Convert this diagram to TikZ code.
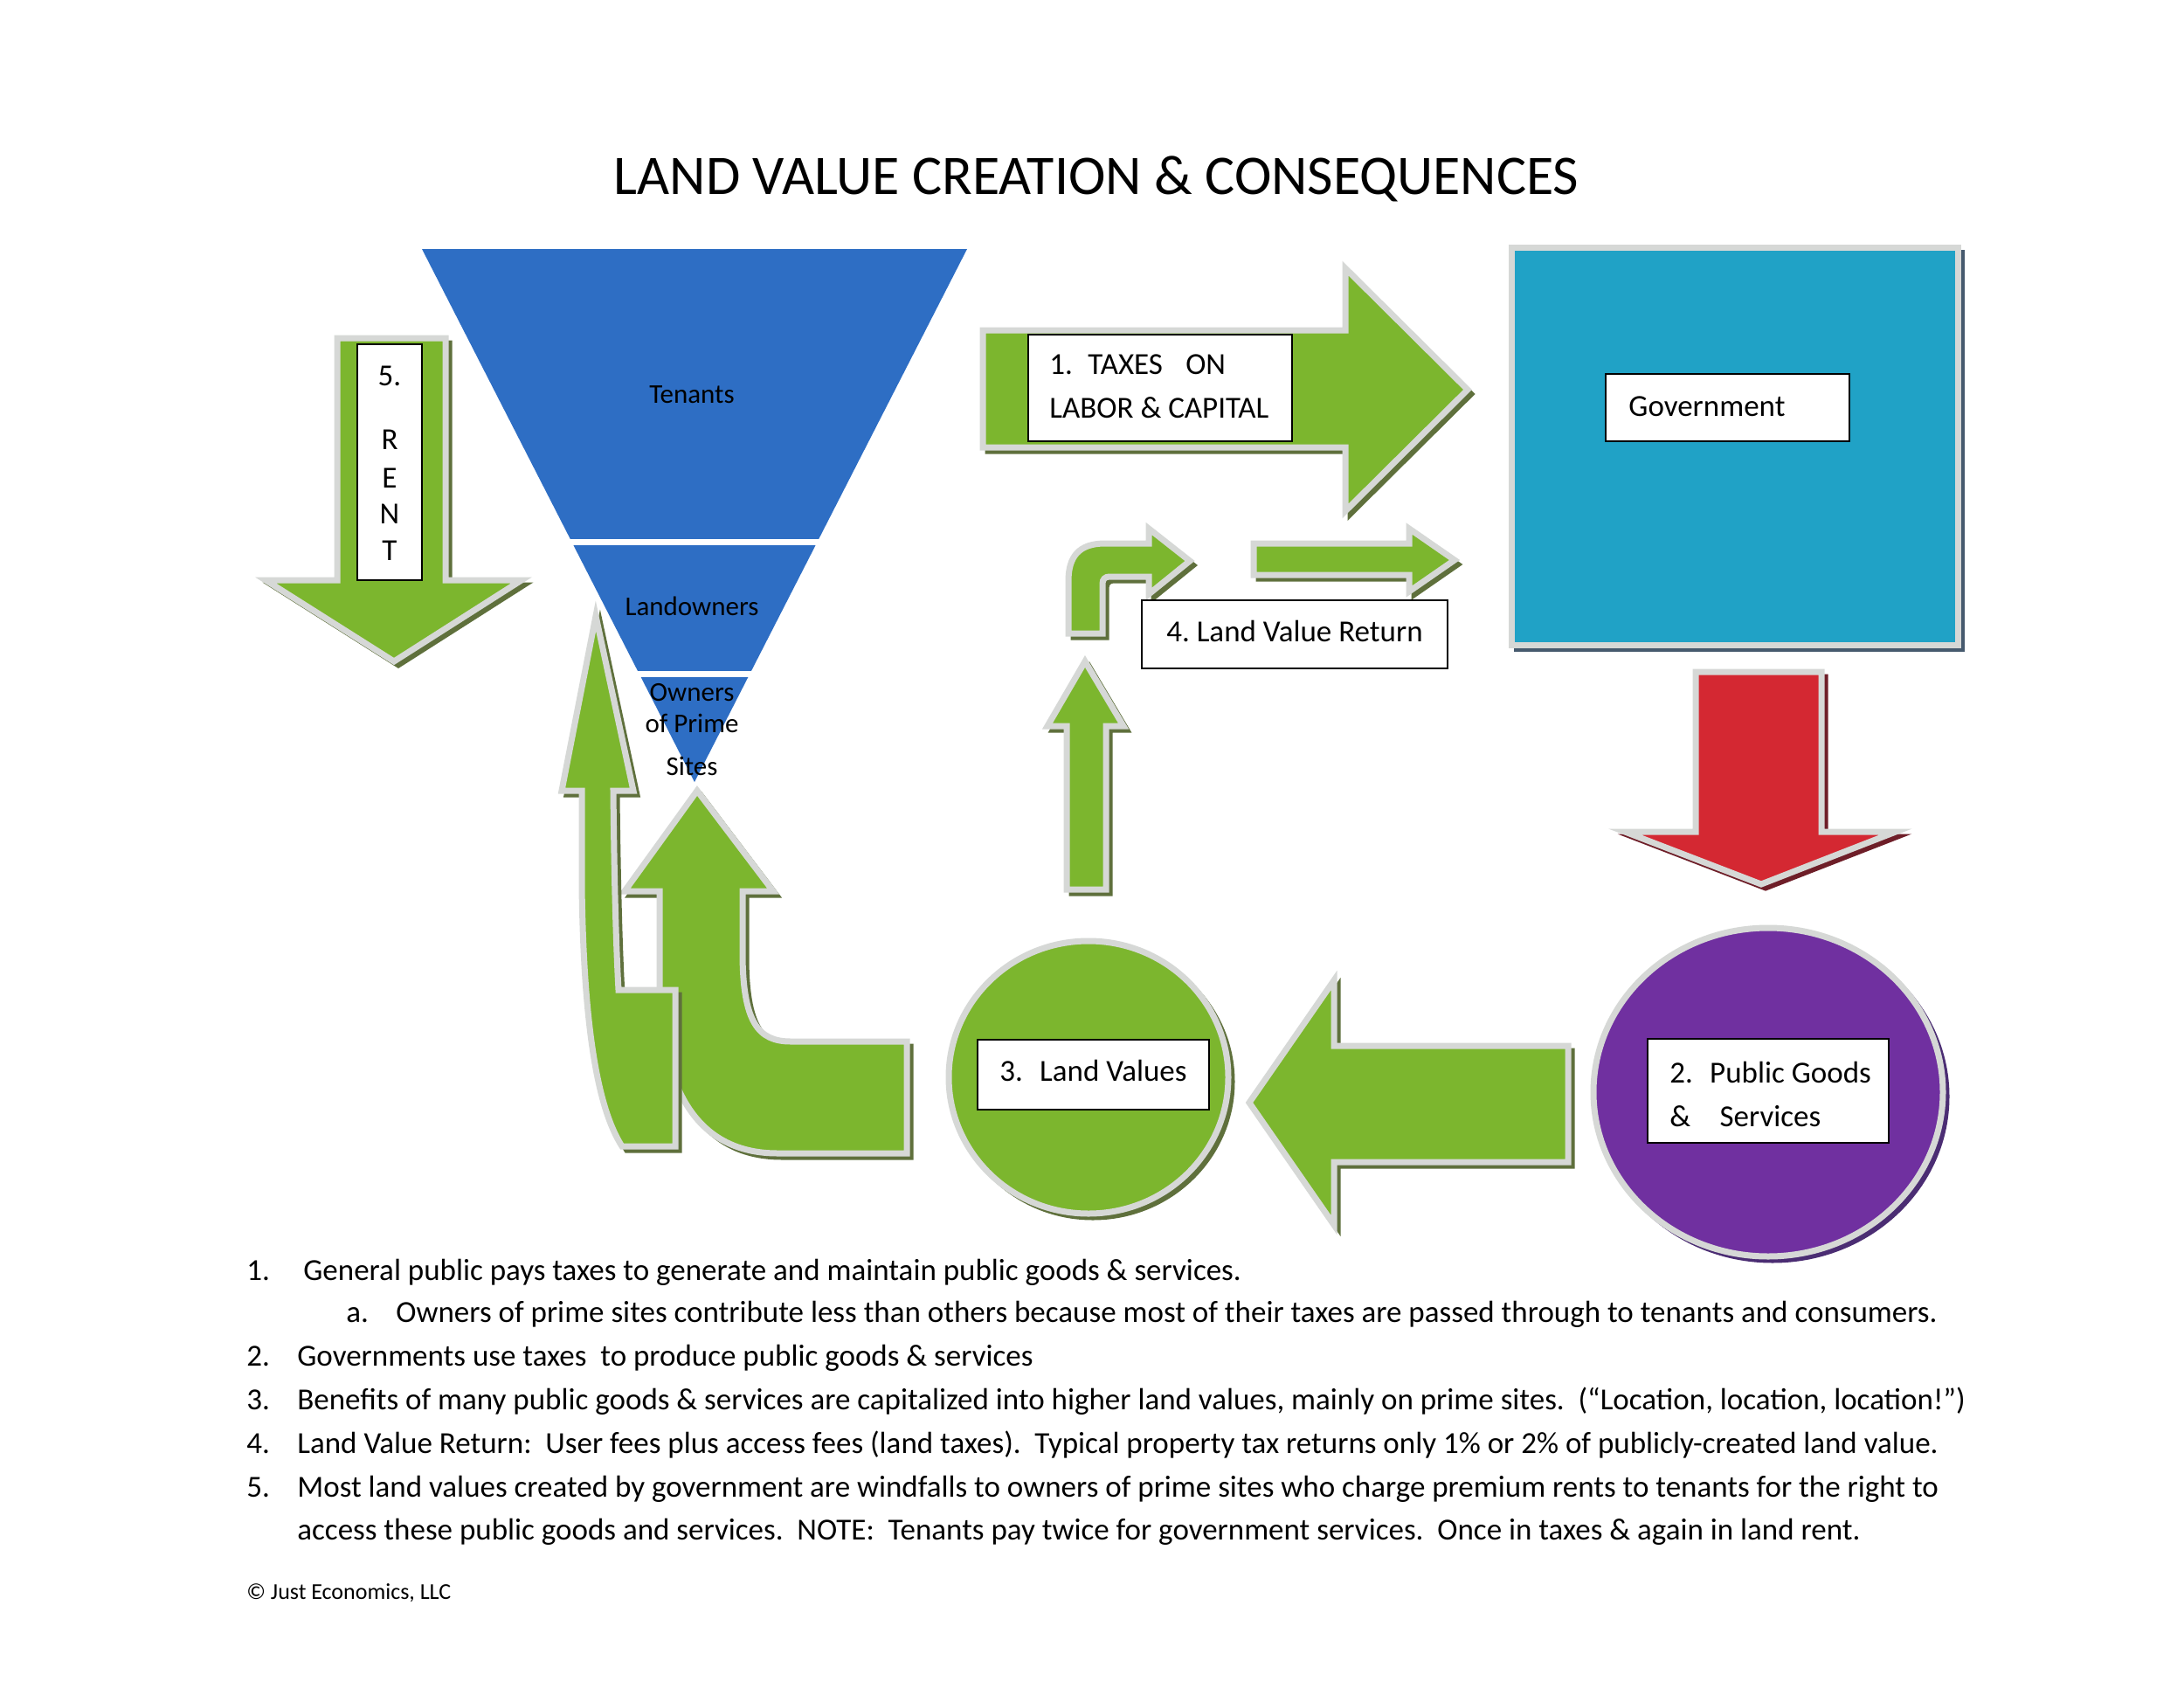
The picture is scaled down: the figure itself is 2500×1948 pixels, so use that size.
\documentclass[tikz,border=0pt]{standalone}
\usepackage{fontspec}
\setmainfont{Carlito}
\definecolor{lvgreen}{RGB}{124,182,46}
\definecolor{gshadow}{RGB}{95,112,60}
\definecolor{gband}{RGB}{214,216,214}
\definecolor{tblue}{RGB}{46,110,196}
\definecolor{govteal}{RGB}{32,162,198}
\definecolor{tealshadow}{RGB}{70,90,110}
\definecolor{rred}{RGB}{212,40,50}
\definecolor{redshadow}{RGB}{110,30,40}
\definecolor{ppurple}{RGB}{112,48,160}
\definecolor{purpshadow}{RGB}{75,45,115}
\newcommand{\fshape}[3]{%
  \filldraw[#2, line width=2.5pt, line join=miter, shift={(5,5)}] #3;
  \filldraw[fill=#1, draw=gband, line width=3.5pt, line join=miter] #3;}
\tikzset{
  lbl/.style={font=\fontsize{17.5}{21}\selectfont, inner sep=0pt, text=black},
  tri/.style={font=\fontsize{15.5}{18}\selectfont, inner sep=0pt, text=black, anchor=base},
  listtxt/.style={font=\fontsize{17.5}{21}\selectfont, inner sep=0pt, anchor=base west},
  boxw/.style={draw=black, line width=1.3pt, fill=white, inner sep=0pt},
}
\begin{document}
\frenchspacing
\begin{tikzpicture}[x=0.5pt, y=-0.5pt]
\useasboundingbox (0,0) rectangle (2500,1948);
\fill[white] (0,0) rectangle (2500,1948);

% title
\node[font=\fontsize{32}{36}\selectfont, inner sep=0pt, anchor=base] (title) at (1255,222) {LAND VALUE CREATION \& CONSEQUENCES};

% RENT arrow
\fshape{lvgreen}{gshadow}{(386,387) -- (510,387) -- (510,664) -- (597,664) -- (451,757) -- (304,664) -- (386,664) -- cycle}
\node[boxw, minimum width=37pt, minimum height=135pt] (rentbox) at (446,529) {};
\node[lbl, anchor=base] (r5) at (446,441) {5.};
\node[lbl, anchor=base] (rR) at (446,514) {R};
\node[lbl, anchor=base] (rE) at (446,558) {E};
\node[lbl, anchor=base] (rN) at (446,599) {N};
\node[lbl, anchor=base] (rT) at (446,641) {T};

% triangle
\fill[tblue] (483,285) -- (1107,285) -- (795,895) -- cycle;
\draw[white, line width=3.5pt] (640,620) -- (950,620);
\draw[white, line width=3.5pt] (722,771) -- (868,771);

% U-turn arrow
\fshape{lvgreen}{gshadow}{(798,905) -- (885,1020) -- (850,1020) -- (850,1090) .. controls (850,1170) and (868,1192) .. (905,1192) -- (1038,1192) -- (1038,1320) -- (890,1320) .. controls (800,1320) and (758,1250) .. (755,1133) -- (755,1020) -- (715,1020) -- cycle}
% tall arrow
\fshape{lvgreen}{gshadow}{(682,705) -- (725,905) -- (702,905) .. controls (703,1000) and (705,1080) .. (708,1133) -- (773,1133) -- (773,1312) -- (712,1312) .. controls (685,1270) and (668,1180) .. (666,1013) -- (666,905) -- (643,905) -- cycle}

% triangle labels
\node[tri] (tenants) at (792,461) {Tenants};
\node[tri] (landowners) at (792,704) {Landowners};
\node[tri] (owners1) at (792,802) {Owners};
\node[tri] (owners2) at (792,838) {of Prime};
\node[tri] (owners3) at (792,887) {Sites};

% arrow 1
\fshape{lvgreen}{gshadow}{(1125,378) -- (1540,378) -- (1540,307) -- (1680,446) -- (1540,585) -- (1540,512) -- (1125,512) -- cycle}
\node[boxw, minimum width=151pt, minimum height=61pt] (box1) at (1328,444) {};
\node[lbl, anchor=base west] (box1a) at (1201,428) {1.\hspace{0.5em}TAXES\hspace{0.75em}ON};
\node[lbl, anchor=base west] (box1b) at (1201,478) {LABOR \& CAPITAL};

% government
\fshape{govteal}{tealshadow}{(1730,283) rectangle (2241,738)}
\node[boxw, minimum width=139.5pt, minimum height=38.5pt] (govbox) at (1977.5,466.5) {};
\node[lbl, anchor=base west] (govtxt) at (1864,476) {Government};

% red arrow
\fshape{rred}{redshadow}{(1941,769) -- (2085,769) -- (2085,952) -- (2170,952) -- (2016,1012) -- (1860,952) -- (1941,952) -- cycle}

% purple circle
\fshape{ppurple}{purpshadow}{(2024,1250) ellipse [x radius=200, y radius=188]}
\node[boxw, minimum width=138pt, minimum height=59.5pt] (box2) at (2024,1248.5) {};
\node[lbl, anchor=base west] (box2a) at (1911,1239) {2.\hspace{0.55em}Public Goods};
\node[lbl, anchor=base west] (box2b) at (1911,1289) {\&\hspace{0.95em}Services};

% left arrow
\fshape{lvgreen}{gshadow}{(1795,1197) -- (1527,1197) -- (1527,1122) -- (1430,1262) -- (1527,1402) -- (1527,1330) -- (1795,1330) -- cycle}

% green circle
\fshape{lvgreen}{gshadow}{(1246,1233) ellipse [x radius=160, y radius=156]}
\node[boxw, minimum width=132.5pt, minimum height=40pt] (box3) at (1251.5,1230) {};
\node[lbl, anchor=base] (box3t) at (1251.5,1237) {3.\hspace{0.55em}Land Values};

% small up arrow
\fshape{lvgreen}{gshadow}{(1221,1018) -- (1221,831) -- (1199,831) -- (1242,757) -- (1286,831) -- (1266,831) -- (1266,1018) -- cycle}

% bent arrow
\fshape{lvgreen}{gshadow}{(1223,725) -- (1223,665) .. controls (1223,637) and (1235,622) .. (1265,622) -- (1315,622) -- (1315,605) -- (1362,642) -- (1315,680) -- (1315,660) -- (1270,660) .. controls (1265,660) and (1262,663) .. (1262,668) -- (1262,725) -- cycle}

% straight arrow
\fshape{lvgreen}{gshadow}{(1435,622) -- (1613,622) -- (1613,605) -- (1665,641) -- (1613,677) -- (1613,658) -- (1435,658) -- cycle}

\node[boxw, minimum width=175pt, minimum height=39pt] (box4) at (1482,726) {};
\node[lbl, anchor=base] (box4t) at (1482,734) {4. Land Value Return};

% notes
\node[listtxt] (n1) at (282,1465) {1.};
\node[listtxt] (l1) at (347,1465) {General public pays taxes to generate and maintain public goods \& services.};
\node[listtxt] (na) at (396,1513) {a.};
\node[listtxt] (la) at (453,1513) {Owners of prime sites contribute less than others because most of their taxes are passed through to tenants and consumers.};
\node[listtxt] (n2) at (282,1563) {2.};
\node[listtxt] (l2) at (340,1563) {Governments use taxes\ \ to produce public goods \& services};
\node[listtxt] (n3) at (282,1613) {3.};
\node[listtxt] (l3) at (340,1613) {Benefits of many public goods \& services are capitalized into higher land values, mainly on prime sites.\ \ (“Location, location, location!”)};
\node[listtxt] (n4) at (282,1663) {4.};
\node[listtxt] (l4) at (340,1663) {Land Value Return:\ \ User fees plus access fees (land taxes).\ \ Typical property tax returns only 1\% or 2\% of publicly-created land value.};
\node[listtxt] (n5) at (282,1713) {5.};
\node[listtxt] (l5) at (340,1713) {Most land values created by government are windfalls to owners of prime sites who charge premium rents to tenants for the right to};
\node[listtxt] (l5b) at (340,1762) {access these public goods and services.\ \ NOTE:\ \ Tenants pay twice for government services.\ \ Once in taxes \& again in land rent.};
\node[listtxt, font=\fontsize{13}{16}\selectfont] (copy) at (282,1830) {© Just Economics, LLC};
\end{tikzpicture}
\end{document}
